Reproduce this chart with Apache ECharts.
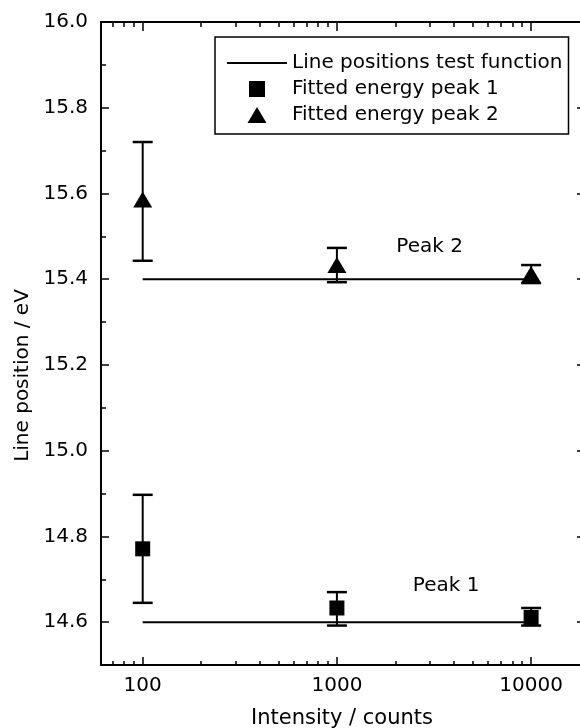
<!DOCTYPE html>
<html>
<head>
<meta charset="utf-8">
<script src="https://cdn.jsdelivr.net/npm/echarts@6/dist/echarts.min.js"></script>
<style>html,body{margin:0;padding:0;background:#fff}#c{width:580px;height:728px}</style>
</head>
<body>
<div id="c"></div>
<script>
// ---- data ----
const intensities = [100, 1000, 10000];
const peak1 = [14.771, 14.633, 14.611];
const peak1Lo = [14.645, 14.592, 14.592];
const peak1Hi = [14.897, 14.670, 14.633];
const peak2 = [15.586, 15.433, 15.412];
const peak2Lo = [15.443, 15.393, 15.391];
const peak2Hi = [15.720, 15.473, 15.433];
const testX = [100, 10000];
const testLine1 = [14.6, 14.6];
const testLine2 = [15.4, 15.4];
const xMajorTicks = [100, 1000, 10000];
const xMinorTicks = [70, 80, 90, 200, 300, 400, 500, 600, 700, 800, 900, 2000, 3000, 4000, 5000, 6000, 7000, 8000, 9000];
const yMajorTicks = [14.6, 14.8, 15.0, 15.2, 15.4, 15.6, 15.8, 16.0];
const yMinorTicks = [14.5, 14.7, 14.9, 15.1, 15.3, 15.5, 15.7, 15.9];
const peakLabels = ['Peak 1', 'Peak 2'];
const peakLabelX = [3650, 3000];
const peakLabelY = [14.685, 15.476];
const X_MIN = 61, X_MAX = 18500, Y_MIN = 14.5, Y_MAX = 16.0;

const FONT = 'DejaVu Sans';
const BLACK = '#000';

function xAx(pos, ticks, len, showLine, labels, extra) {
  return Object.assign({
    type: 'log', logBase: 10, min: X_MIN, max: X_MAX, position: pos, gridIndex: 0,
    axisLine: { show: showLine, lineStyle: { color: BLACK, width: 2 } },
    axisTick: { show: true, inside: true, length: len, customValues: ticks, lineStyle: { color: BLACK, width: 1.5 } },
    axisLabel: labels ? { show: true, customValues: ticks, margin: 11, fontSize: 20, fontFamily: FONT, color: BLACK, formatter: v => String(Math.round(v)) } : { show: false },
    splitLine: { show: false }, minorTick: { show: false }, minorSplitLine: { show: false }
  }, extra || {});
}
function yAx(pos, ticks, len, showLine, labels, extra) {
  return Object.assign({
    type: 'value', min: Y_MIN, max: Y_MAX, position: pos, gridIndex: 0,
    axisLine: { show: showLine, lineStyle: { color: BLACK, width: 2 } },
    axisTick: { show: true, inside: true, length: len, customValues: ticks, lineStyle: { color: BLACK, width: 1.5 } },
    axisLabel: labels ? { show: true, customValues: ticks, margin: 13, fontSize: 20, fontFamily: FONT, color: BLACK, formatter: v => v.toFixed(1) } : { show: false },
    splitLine: { show: false }
  }, extra || {});
}

function errRender(params, api) {
  const x = api.value(0);
  const lo = api.coord([x, api.value(1)]);
  const hi = api.coord([x, api.value(2)]);
  const w = 10;
  const st = { stroke: BLACK, lineWidth: 2 };
  const cap = { stroke: BLACK, lineWidth: 2.5 };
  return {
    type: 'group', children: [
      { type: 'line', shape: { x1: lo[0], y1: lo[1], x2: hi[0], y2: hi[1] }, style: st },
      { type: 'line', shape: { x1: lo[0] - w, y1: lo[1], x2: lo[0] + w, y2: lo[1] }, style: cap },
      { type: 'line', shape: { x1: hi[0] - w, y1: hi[1], x2: hi[0] + w, y2: hi[1] }, style: cap }
    ]
  };
}

const chart = echarts.init(document.getElementById('c'), null, { renderer: 'canvas' });
const option = {
  animation: false,
  backgroundColor: '#fff',
  grid: { left: 101, top: 22, width: 482, bottom: 63, containLabel: false, outerBoundsMode: 'none' },
  xAxis: [
    xAx('bottom', xMajorTicks, 8, true, true, {
      name: 'Intensity / counts', nameLocation: 'middle', nameGap: 43,
      nameTextStyle: { fontSize: 21, fontFamily: FONT, color: BLACK }
    }),
    xAx('bottom', xMinorTicks, 4, false, false),
    xAx('top', xMajorTicks, 9, true, false),
    xAx('top', xMinorTicks, 5, false, false)
  ],
  yAxis: [
    yAx('left', yMajorTicks, 8, true, true, {
      name: 'Line position / eV', nameLocation: 'middle', nameGap: 66,
      nameTextStyle: { fontSize: 20, fontFamily: FONT, color: BLACK, padding: [0, 64, 0, 0] }
    }),
    yAx('left', yMinorTicks, 5, false, false),
    yAx('right', yMajorTicks, 6, true, false)
  ],
  legend: {
    data: [
      { name: 'Line positions test function', icon: 'path://M0,0H30V1H0Z' },
      { name: 'Fitted energy peak 1', icon: 'path://M0,0H14V14H0Z' },
      { name: 'Fitted energy peak 2', icon: 'path://M9.5,0L19,16H0Z' }
    ],
    symbolKeepAspect: true,
    orient: 'vertical', left: 215, top: 37,
    itemWidth: 60, itemHeight: 16, itemGap: 6,
    padding: [16, 6, 9, 12],
    borderColor: BLACK, borderWidth: 1.5,
    selectedMode: false,
    textStyle: { fontSize: 20, fontFamily: FONT, color: BLACK }
  },
  series: [
    {
      type: 'line', name: 'Line positions test function',
      data: testX.map((x, i) => [x, testLine1[i]]),
      symbol: 'none', lineStyle: { color: BLACK, width: 2 }, itemStyle: { color: BLACK },
      markPoint: {
        symbol: 'circle', symbolSize: 1, itemStyle: { color: 'rgba(0,0,0,0)' },
        label: { show: true, position: 'inside', fontSize: 20, fontFamily: FONT, color: BLACK },
        data: peakLabels.map((t, i) => ({ coord: [peakLabelX[i], peakLabelY[i]], value: t, label: { formatter: t } }))
      }
    },
    {
      type: 'line', name: 'Line positions test function',
      data: testX.map((x, i) => [x, testLine2[i]]),
      symbol: 'none', lineStyle: { color: BLACK, width: 2 }, itemStyle: { color: BLACK }
    },
    {
      type: 'custom', name: 'err1', renderItem: errRender,
      data: intensities.map((x, i) => [x, peak1Lo[i], peak1Hi[i]]),
      encode: { x: 0, y: [1, 2] }, z: 3
    },
    {
      type: 'custom', name: 'err2', renderItem: errRender,
      data: intensities.map((x, i) => [x, peak2Lo[i], peak2Hi[i]]),
      encode: { x: 0, y: [1, 2] }, z: 3
    },
    {
      type: 'scatter', name: 'Fitted energy peak 1', symbol: 'rect', symbolSize: 15,
      data: intensities.map((x, i) => [x, peak1[i]]),
      itemStyle: { color: BLACK, opacity: 1 }, z: 4
    },
    {
      type: 'scatter', name: 'Fitted energy peak 2', symbol: 'triangle', symbolSize: [19, 16],
      data: intensities.map((x, i) => [x, peak2[i]]),
      itemStyle: { color: BLACK, opacity: 1 }, z: 4
    }
  ]
};
chart.setOption(option);
</script>
</body>
</html>
